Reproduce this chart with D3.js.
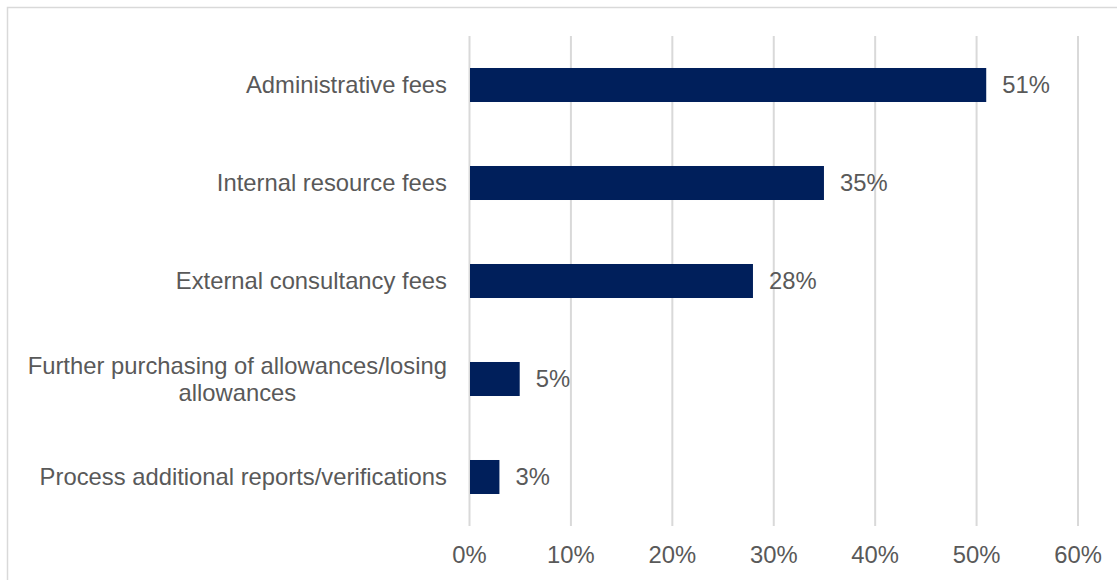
<!DOCTYPE html>
<html>
<head>
<meta charset="utf-8">
<script src="https://cdn.jsdelivr.net/npm/d3@7"></script>
<style>
  html, body { margin: 0; padding: 0; background: #fff; }
  svg { display: block; font-family: "Liberation Sans", Arial, sans-serif; }
</style>
</head>
<body>
<svg id="chart" width="1117" height="580"></svg>
<script>
// Cost categories and share of respondents (percent)
const categories = [
  "Administrative fees",
  "Internal resource fees",
  "External consultancy fees",
  "Further purchasing of allowances/losing allowances",
  "Process additional reports/verifications"
];
const values = [51, 35, 28, 5, 3];
const xTicks = [0, 10, 20, 30, 40, 50, 60];

const svg = d3.select("#chart");
const W = 1117, H = 580;
const plot = { left: 469, right: 1077.5, top: 36, bottom: 526 };
const textColor = "#595959";
const barColor = "#001f5b";
const gridColor = "#d9d9d9";
const fontSize = 23.8;

// chart frame
svg.append("rect")
  .attr("x", 7.5).attr("y", 7.5)
  .attr("width", W + 20).attr("height", H + 20)
  .attr("fill", "none").attr("stroke", gridColor).attr("stroke-width", 1.5);

const x = d3.scaleLinear().domain([0, 60]).range([plot.left, plot.right]);
const y = d3.scaleBand().domain(categories)
  .range([plot.top, plot.bottom])
  .paddingInner(0.653).paddingOuter(0.3265);

// vertical gridlines + percent tick labels
const xAxis = d3.axisBottom(x)
  .tickValues(xTicks)
  .tickFormat(d => d + "%")
  .tickSizeInner(-(plot.bottom - plot.top))
  .tickSizeOuter(0)
  .tickPadding(20);

const gx = svg.append("g")
  .attr("transform", `translate(0,${plot.bottom})`)
  .call(xAxis);
gx.select(".domain").remove();
gx.selectAll(".tick line").attr("stroke", gridColor).attr("stroke-width", 2);
gx.selectAll(".tick text")
  .attr("fill", textColor)
  .attr("font-size", fontSize)
  .attr("font-family", "Liberation Sans, Arial, sans-serif");

// bars
svg.append("g").selectAll("rect")
  .data(categories)
  .join("rect")
  .attr("x", x(0) + 1)
  .attr("y", d => y(d))
  .attr("width", (d, i) => x(values[i]) - x(0) - 1)
  .attr("height", y.bandwidth())
  .attr("fill", barColor);

// value labels
svg.append("g").selectAll("text")
  .data(categories)
  .join("text")
  .attr("x", (d, i) => x(values[i]) + 16)
  .attr("y", d => y(d) + y.bandwidth() / 2)
  .attr("dy", "0.35em")
  .attr("fill", textColor)
  .attr("font-size", fontSize)
  .text((d, i) => values[i] + "%");

// category labels, wrapped and centred as a block right-aligned to the axis
const labelRight = 447;
const maxWidth = 435;
const lineHeight = 27;
const gy = svg.append("g");
categories.forEach(cat => {
  const words = cat.split(" ");
  const probe = gy.append("text").attr("font-size", fontSize);
  const lines = [];
  let line = [];
  words.forEach(w => {
    line.push(w);
    probe.text(line.join(" "));
    if (probe.node().getComputedTextLength() > maxWidth && line.length > 1) {
      line.pop();
      lines.push(line.join(" "));
      line = [w];
    }
  });
  lines.push(line.join(" "));
  const widths = lines.map(l => { probe.text(l); return probe.node().getComputedTextLength(); });
  probe.remove();
  const blockW = d3.max(widths);
  const cx = labelRight - blockW / 2;
  const cy = y(cat) + y.bandwidth() / 2;
  const t = gy.append("text")
    .attr("font-size", fontSize)
    .attr("fill", textColor)
    .attr("text-anchor", lines.length > 1 ? "middle" : "end");
  lines.forEach((l, i) => {
    t.append("tspan")
      .attr("x", lines.length > 1 ? cx : labelRight)
      .attr("y", cy + (i - (lines.length - 1) / 2) * lineHeight)
      .attr("dy", "0.35em")
      .text(l);
  });
});
</script>
</body>
</html>
